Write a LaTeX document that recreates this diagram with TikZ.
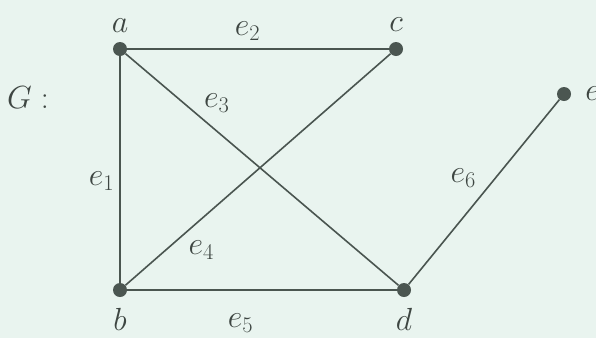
\RequirePackage{fix-cm}
\documentclass[tikz,border=0pt]{standalone}
\usepackage{tikz}
\usetikzlibrary{positioning}
\definecolor{bgmint}{HTML}{E9F4EF}
\definecolor{edgegray}{HTML}{4A5550}
\definecolor{dotgray}{HTML}{4B5651}
\definecolor{labelgray}{HTML}{3E4642}

\begin{document}
\begin{tikzpicture}[
    x=1pt, y=-1pt,
    font=\fontsize{32}{36}\selectfont,
    vertex/.style={circle, fill=dotgray, inner sep=0pt, minimum size=14pt},
    vname/.style={text=labelgray, inner sep=2pt},
    edge/.style={draw=edgegray, line width=1.6pt},
    elabel/.style={text=labelgray, inner sep=2pt}
]
  \useasboundingbox (0,0) rectangle (596,338);
  \fill[bgmint] (0,0) rectangle (596,338);

  \node[vertex, label={[vname, label distance=7pt]above:$a$}] (a) at (120,49) {};
  \node[vertex, label={[vname, label distance=8pt]above:$c$}] (c) at (396,49) {};
  \node[vertex, label={[vname, label distance=9pt]below:$b$}] (b) at (120,290) {};
  \node[vertex, label={[vname, label distance=9pt]below:$d$}] (d) at (404,290) {};
  \node[vertex, label={[vname, label distance=12pt]right:$e$}] (e) at (564,94) {};
  \node[vname] (gname) at (28,98) {$G:$};

  \draw[edge] (a) -- node[elabel, pos=0.55, left=3pt] {$e_1$} (b);
  \draw[edge] (a) -- node[elabel, pos=0.46, above=6pt] {$e_2$} (c);
  \draw[edge] (a) -- node[elabel, pos=0.334, above=16pt] {$e_3$} (d);
  \draw[edge] (b) -- node[elabel, pos=0.286, below=19pt] {$e_4$} (c);
  \draw[edge] (b) -- node[elabel, pos=0.42, below=21pt] {$e_5$} (d);
  \draw[edge] (d) -- node[elabel, pos=0.577, left=17pt] {$e_6$} (e);
\end{tikzpicture}
\end{document}
